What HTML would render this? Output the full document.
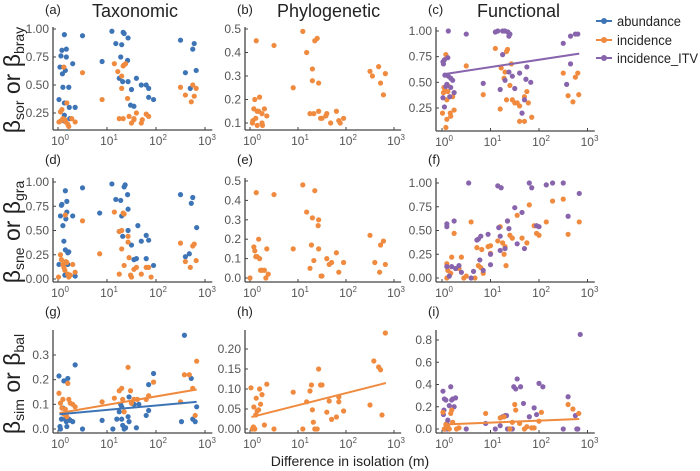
<!DOCTYPE html>
<html><head><meta charset="utf-8"><style>
body{margin:0;background:#fff;width:700px;height:471px;overflow:hidden}
svg{display:block;font-family:"Liberation Sans",sans-serif}
</style></head><body>
<svg id="c" width="700" height="471"></svg>
<script>
const blue='#3d74b6',orange='#ef8a3e',purple='#8864ad';
const aBlue=[[0.13,0.95],[0.08,0.81],[0.17,0.82],[0.06,0.76],[0.17,0.75],[0.04,0.66],[0.15,0.63],[0.09,0.6],[0.3,0.69],[0.5,0.94],[0.1,0.48],[0.22,0.48],[0.02,0.37],[0.13,0.34],[0.23,0.3],[0.35,0.3],[0.13,0.23],[0.24,0.2],[0.12,0.18],[1.1,0.98],[1.33,0.97],[1.35,0.96],[1.18,0.87],[1.3,0.86],[1.28,0.75],[1.43,0.92],[0.9,0.71],[1.42,0.72],[1.25,0.56],[1.32,0.53],[1.43,0.53],[1.5,0.46],[1.6,0.56],[1.7,0.5],[1.8,0.5],[1.85,0.47],[1.95,0.37],[1.85,0.39],[1.48,0.32],[1.55,0.31],[2.5,0.9],[2.78,0.87],[2.75,0.82],[2.6,0.61],[2.82,0.63],[2.7,0.47]];
const aOrange=[[0.02,0.17],[0.05,0.26],[0.08,0.28],[0.1,0.2],[0.14,0.19],[0.16,0.17],[0.22,0.13],[0.2,0.15],[0.12,0.66],[0.5,0.61],[0.35,0.17],[0.18,0.34],[0.28,0.2],[0.06,0.18],[0.9,0.37],[1.15,0.69],[1.22,0.62],[1.3,0.58],[1.33,0.67],[1.35,0.68],[1.38,0.69],[1.3,0.47],[1.42,0.38],[1.25,0.2],[1.33,0.2],[1.45,0.22],[1.5,0.16],[1.55,0.2],[1.6,0.25],[1.7,0.16],[1.8,0.24],[1.85,0.22],[1.72,0.19],[1.55,0.19],[2.5,0.48],[2.6,0.41],[2.75,0.5],[2.82,0.47],[2.72,0.35],[2.78,0.4]];
const bOrange=[[0.05,0.1],[0.08,0.16],[0.1,0.2],[0.12,0.12],[0.15,0.15],[0.18,0.15],[0.2,0.21],[0.25,0.14],[0.3,0.16],[0.35,0.13],[0.15,0.09],[0.25,0.1],[0.26,0.09],[0.06,0.11],[0.13,0.45],[0.5,0.43],[0.9,0.25],[1.1,0.49],[1.18,0.4],[1.3,0.33],[1.3,0.28],[1.35,0.45],[1.4,0.46],[1.43,0.27],[1.25,0.14],[1.33,0.14],[1.43,0.15],[1.47,0.12],[1.5,0.12],[1.58,0.13],[1.6,0.14],[1.68,0.1],[1.8,0.15],[1.85,0.11],[1.88,0.1],[1.95,0.12],[2.5,0.32],[2.55,0.3],[2.68,0.34],[2.72,0.27],[2.78,0.22],[2.82,0.31]];
const cPurple=[[0.13,1.0],[0.5,0.97],[0.02,0.7],[0.05,0.72],[0.03,0.68],[0.12,0.74],[0.06,0.57],[0.1,0.48],[0.08,0.46],[0.13,0.56],[0.18,0.54],[0.22,0.52],[0.18,0.45],[0.25,0.4],[0.16,0.36],[0.02,0.35],[0.05,0.26],[1.1,0.99],[1.15,1.0],[1.25,1.0],[1.3,1.0],[1.36,0.99],[1.4,0.97],[1.38,0.95],[1.25,0.77],[1.3,0.52],[1.2,0.43],[1.38,0.6],[1.45,0.56],[1.5,0.44],[1.6,0.59],[1.75,0.65],[1.73,0.53],[1.83,0.5],[1.7,0.33],[1.65,0.2],[0.85,0.49],[2.5,0.88],[2.65,0.95],[2.75,0.97],[2.8,0.97],[2.65,0.68],[2.57,0.48]];
const cOrange=[[0.01,0.2],[0.03,0.4],[0.04,0.45],[0.06,0.42],[0.1,0.33],[0.12,0.47],[0.08,0.77],[0.12,0.41],[0.17,0.2],[0.18,0.17],[0.22,0.36],[0.25,0.23],[0.1,0.14],[0.08,0.06],[0.5,0.66],[0.85,0.38],[1.1,0.83],[1.22,0.64],[1.33,0.8],[1.35,0.82],[1.3,0.6],[1.28,0.54],[1.2,0.24],[1.33,0.33],[1.4,0.47],[1.43,0.68],[1.45,0.33],[1.5,0.3],[1.55,0.3],[1.6,0.27],[1.7,0.36],[1.75,0.41],[1.78,0.3],[1.6,0.12],[1.7,0.12],[1.85,0.16],[2.5,0.59],[2.6,0.37],[2.7,0.31],[2.75,0.55],[2.8,0.59],[2.82,0.38]];
const dBlue=[[0.02,0.15],[0.05,0.65],[0.07,0.76],[0.08,0.77],[0.1,0.55],[0.12,0.39],[0.15,0.91],[0.18,0.8],[0.18,0.69],[0.16,0.62],[0.2,0.27],[0.15,0.3],[0.22,0.28],[0.2,0.15],[0.14,0.04],[0.3,0.65],[0.35,0.03],[0.5,0.94],[0.85,0.68],[1.1,0.98],[1.18,0.82],[1.28,0.81],[1.35,0.95],[1.37,0.97],[1.42,0.87],[1.43,0.72],[1.3,0.65],[1.25,0.49],[1.32,0.44],[1.43,0.5],[1.5,0.35],[1.55,0.2],[1.6,0.21],[1.63,0.55],[1.7,0.39],[1.8,0.45],[1.85,0.4],[1.8,0.21],[1.95,0.14],[2.5,0.87],[2.75,0.84],[2.72,0.78],[2.6,0.23],[2.68,0.26],[2.83,0.53]];
const dOrange=[[0.01,0.02],[0.05,0.25],[0.07,0.2],[0.1,0.15],[0.12,0.12],[0.14,0.09],[0.16,0.18],[0.18,0.17],[0.2,0.05],[0.22,0.02],[0.25,0.04],[0.3,0.15],[0.35,0.07],[0.15,0.66],[0.5,0.6],[0.85,0.26],[1.15,0.69],[1.25,0.49],[1.3,0.5],[1.35,0.67],[1.33,0.68],[1.3,0.31],[1.35,0.14],[1.25,0.05],[1.43,0.44],[1.43,0.38],[1.45,0.22],[1.48,0.04],[1.5,0.02],[1.55,0.1],[1.6,0.12],[1.7,0.05],[1.8,0.12],[1.85,0.12],[1.9,0.02],[2.5,0.37],[2.6,0.18],[2.7,0.12],[2.75,0.34],[2.78,0.36],[2.82,0.19]];
const eOrange=[[0.0,0.0],[0.08,0.16],[0.1,0.14],[0.12,0.11],[0.15,0.11],[0.18,0.2],[0.2,0.1],[0.25,0.04],[0.22,0.04],[0.3,0.04],[0.33,0.0],[0.35,0.15],[0.38,0.02],[0.13,0.44],[0.5,0.43],[0.9,0.15],[1.1,0.48],[1.18,0.34],[1.3,0.31],[1.35,0.45],[1.28,0.17],[1.25,0.05],[1.33,0.09],[1.43,0.3],[1.42,0.27],[1.43,0.15],[1.48,0.01],[1.5,0.01],[1.6,0.1],[1.65,0.07],[1.7,0.08],[1.8,0.13],[1.85,0.03],[1.95,0.08],[2.5,0.22],[2.6,0.08],[2.7,0.03],[2.72,0.17],[2.78,0.19],[2.82,0.07]];
const fPurple=[[0.1,0.57],[0.1,0.54],[0.25,0.6],[0.1,0.12],[0.15,0.02],[0.2,0.12],[0.28,0.1],[0.35,0.13],[0.4,0.06],[0.55,1.0],[0.6,0.0],[0.65,0.07],[0.72,0.4],[0.75,0.41],[0.8,0.44],[0.78,0.19],[0.85,0.08],[0.95,0.46],[1.0,0.25],[1.0,0.14],[1.15,0.97],[1.22,0.95],[1.17,0.53],[1.2,0.44],[1.2,0.29],[1.35,0.6],[1.38,0.52],[1.3,0.31],[1.5,0.74],[1.55,0.36],[1.65,0.69],[1.7,0.31],[1.8,1.0],[1.85,0.95],[1.95,0.55],[2.0,0.54],[2.15,0.98],[2.28,1.0],[2.5,1.0],[2.6,0.65],[2.83,0.89]];
const fOrange=[[0.1,0.15],[0.1,0.0],[0.12,0.08],[0.18,0.05],[0.2,0.22],[0.25,0.47],[0.35,0.1],[0.4,0.22],[0.45,0.0],[0.5,0.02],[0.6,0.59],[0.68,0.0],[0.72,0.32],[0.75,0.13],[0.82,0.3],[0.8,0.11],[0.85,0.05],[0.95,0.33],[1.0,0.34],[1.0,0.26],[1.15,0.39],[1.2,0.54],[1.25,0.37],[1.28,0.25],[1.3,0.33],[1.32,0.13],[1.35,0.6],[1.4,0.45],[1.45,0.42],[1.55,0.66],[1.65,0.42],[1.75,0.37],[1.8,0.77],[1.9,0.55],[1.95,0.47],[2.0,0.45],[2.15,0.59],[2.28,0.81],[2.5,0.83],[2.6,0.46],[2.83,0.59]];
const gBlue=[[0.02,0.215],[0.04,0.01],[0.05,0.0],[0.07,0.04],[0.1,0.085],[0.12,0.195],[0.15,0.04],[0.17,0.03],[0.18,0.01],[0.2,0.205],[0.22,0.04],[0.25,0.035],[0.3,0.03],[0.35,0.26],[0.5,0.0],[0.9,0.035],[1.12,0.0],[1.2,0.04],[1.25,0.07],[1.28,0.1],[1.3,0.09],[1.3,0.04],[1.32,0.015],[1.35,0.0],[1.38,0.005],[1.43,0.05],[1.45,0.03],[1.45,0.13],[1.5,0.105],[1.55,0.1],[1.6,0.005],[1.65,0.1],[1.8,0.055],[1.85,0.075],[1.85,0.18],[1.95,0.225],[2.52,0.03],[2.58,0.38],[2.72,0.205],[2.75,0.04],[2.8,0.03],[2.83,0.09]];
const gOrange=[[0.02,0.145],[0.05,0.105],[0.08,0.085],[0.1,0.12],[0.15,0.08],[0.2,0.185],[0.22,0.12],[0.25,0.105],[0.3,0.1],[0.35,0.09],[0.12,0.06],[0.18,0.05],[0.9,0.11],[1.15,0.125],[1.25,0.155],[1.3,0.165],[1.32,0.12],[1.35,0.07],[1.43,0.25],[1.48,0.155],[1.5,0.105],[1.55,0.12],[1.62,0.12],[1.8,0.12],[1.85,0.135],[1.95,0.19],[2.5,0.11],[2.58,0.22],[2.68,0.22],[2.75,0.165],[2.8,0.055],[2.83,0.275]];
const hOrange=[[0.02,0.103],[0.05,0.0],[0.07,0.005],[0.08,0.055],[0.1,0.0],[0.12,0.035],[0.13,0.077],[0.15,0.045],[0.18,0.048],[0.2,0.1],[0.22,0.062],[0.25,0.086],[0.3,0.01],[0.35,0.112],[0.5,0.0],[0.9,0.092],[1.1,0.0],[1.18,0.068],[1.25,0.095],[1.28,0.11],[1.3,0.048],[1.32,0.017],[1.35,0.0],[1.4,0.0],[1.43,0.15],[1.47,0.11],[1.5,0.11],[1.6,0.042],[1.65,0.07],[1.7,0.024],[1.8,0.03],[1.85,0.068],[1.85,0.08],[1.95,0.045],[2.5,0.06],[2.58,0.17],[2.68,0.155],[2.72,0.148],[2.75,0.035],[2.82,0.24]];
const iPurple=[[0.02,0.34],[0.05,0.27],[0.08,0.26],[0.04,0.17],[0.03,0.13],[0.1,0.05],[0.12,0.08],[0.15,0.21],[0.18,0.38],[0.22,0.27],[0.2,0.26],[0.25,0.2],[0.28,0.28],[0.5,0.0],[0.05,0.0],[0.08,0.0],[0.12,0.0],[0.9,0.05],[1.1,0.0],[1.2,0.03],[1.25,0.11],[1.3,0.12],[1.33,0.12],[1.35,0.0],[1.4,0.0],[1.45,0.0],[1.48,0.38],[1.52,0.36],[1.55,0.45],[1.62,0.38],[1.68,0.23],[1.8,0.11],[1.9,0.19],[1.95,0.13],[2.0,0.41],[2.08,0.38],[2.5,0.0],[2.6,0.29],[2.75,0.12],[2.78,0.0],[2.8,0.0],[2.85,0.85]];
const iOrange=[[0.02,0.15],[0.05,0.0],[0.08,0.04],[0.12,0.02],[0.15,0.0],[0.18,0.14],[0.2,0.17],[0.22,0.06],[0.3,0.0],[0.35,0.01],[0.9,0.14],[1.2,0.1],[1.28,0.11],[1.4,0.0],[1.45,0.06],[1.5,0.22],[1.52,0.17],[1.6,0.05],[1.7,0.0],[1.75,0.02],[1.85,0.01],[1.9,0.01],[2.0,0.07],[2.05,0.15],[2.6,0.22],[2.7,0.18],[2.82,0.14]];
const cPurpleFit=[0.05,0.58,2.83,0.78];
const gOrangeFit=[0.03,0.065,2.83,0.16];
const gBlueFit=[0.03,0.06,2.83,0.11];
const hOrangeFit=[0.03,0.03,2.83,0.115];
const iOrangeFit=[0.03,0.04,2.83,0.09];
const xTicks=[0,1,2,3];

const NS='http://www.w3.org/2000/svg',svg=document.getElementById('c');
function el(t,a,p){const e=document.createElementNS(NS,t);for(const k in a)e.setAttribute(k,a[k]);(p||svg).appendChild(e);return e;}
const panels=[
 {id:'a',x0:58,dec:49,ax:53,by:130,ty:27,v1:1,p1:29,v2:0.25,p2:113,yt:[0.25,0.5,0.75,1.0],fmt:2,series:[[aBlue,blue],[aOrange,orange]],fits:[]},
 {id:'b',x0:250,dec:48,ax:245,by:130,ty:27,v1:0.5,p1:29,v2:0.1,p2:123,yt:[0.1,0.2,0.3,0.4,0.5],fmt:1,series:[[bOrange,orange]],fits:[]},
 {id:'c',x0:442,dec:48.5,ax:436,by:131,ty:27,v1:1,p1:31,v2:0.25,p2:108,yt:[0.25,0.5,0.75,1.0],fmt:2,series:[[cOrange,orange],[cPurple,purple]],fits:[[cPurpleFit,purple]]},
 {id:'d',x0:58,dec:49,ax:53,by:282,ty:178,v1:1,p1:182,v2:0,p2:279,yt:[0,0.25,0.5,0.75,1.0],fmt:2,series:[[dBlue,blue],[dOrange,orange]],fits:[]},
 {id:'e',x0:250,dec:48,ax:245,by:282,ty:178,v1:0.5,p1:181,v2:0,p2:278,yt:[0,0.1,0.2,0.3,0.4,0.5],fmt:1,series:[[eOrange,orange]],fits:[]},
 {id:'f',x0:442,dec:48.5,ax:436,by:282,ty:178,v1:1,p1:183,v2:0,p2:278,yt:[0,0.25,0.5,0.75,1.0],fmt:2,series:[[fOrange,orange],[fPurple,purple]],fits:[]},
 {id:'g',x0:58,dec:49,ax:53,by:433,ty:330,v1:0.3,p1:355,v2:0,p2:429,yt:[0,0.1,0.2,0.3],fmt:1,series:[[gBlue,blue],[gOrange,orange]],fits:[[gOrangeFit,orange],[gBlueFit,blue]]},
 {id:'h',x0:250,dec:48,ax:245,by:433,ty:330,v1:0.2,p1:349,v2:0,p2:429,yt:[0,0.05,0.1,0.15,0.2],fmt:2,series:[[hOrange,orange]],fits:[[hOrangeFit,orange]]},
 {id:'i',x0:442,dec:48.5,ax:436,by:433,ty:330,v1:0.8,p1:340,v2:0,p2:429,yt:[0,0.2,0.4,0.6,0.8],fmt:1,series:[[iPurple,purple],[iOrange,orange]],fits:[[iOrangeFit,orange]]}
];
panels.forEach(P=>{
  const g=el('g',{});
  
  
  const X=v=>P.x0+v*P.dec, Y=v=>P.p1+(v-P.v1)*(P.p2-P.p1)/(P.v2-P.v1);
  const right=P.x0+3.15*P.dec;
  el('line',{x1:P.ax,y1:P.ty,x2:P.ax,y2:P.by,stroke:'#444','stroke-width':1.3},g);
  el('line',{x1:P.ax,y1:P.by,x2:right,y2:P.by,stroke:'#444','stroke-width':1.3},g);
  P.yt.forEach(v=>{
    el('line',{x1:P.ax,y1:Y(v),x2:P.ax+3,y2:Y(v),stroke:'#444'},g);
    const t=el('text',{x:P.ax-4,y:Y(v)+4,'text-anchor':'end','font-size':12,fill:'#555'},g);
    t.textContent=v.toFixed(P.fmt);
    
    
  });
  xTicks.forEach(v=>{
    el('line',{x1:X(v),y1:P.by,x2:X(v),y2:P.by-3,stroke:'#444'},g);
    const t=el('text',{x:X(v)+2,y:P.by+15,'text-anchor':'middle','font-size':12,fill:'#555'},g);
    t.innerHTML='10<tspan dy="-5" font-size="8">'+v+'</tspan>';
    
    
  });
  P.series.forEach(([d,col])=>d.forEach(([lx,v])=>{
    const c=el('circle',{cx:X(lx),cy:Y(v),r:2.6,fill:col},g);
    
    
  }));
  P.fits.forEach(([f,col])=>{
    const l=el('line',{x1:X(f[0]),y1:Y(f[1]),x2:X(f[2]),y2:Y(f[3]),stroke:col,'stroke-width':2},g);
    
    
  });
});
</script>
<svg width="700" height="471" style="position:absolute;left:0;top:0" font-family="Liberation Sans, sans-serif">
 <g fill="#222" font-size="13">
  <text x="45" y="14">(a)</text>
  <text x="237" y="14">(b)</text>
  <text x="428" y="14">(c)</text>
  <text x="45" y="164">(d)</text>
  <text x="237" y="164">(e)</text>
  <text x="428" y="164">(f)</text>
  <text x="45" y="316">(g)</text>
  <text x="237" y="316">(h)</text>
  <text x="428" y="316">(i)</text>
 </g>
 <g fill="#222" font-size="18">
  <text x="92" y="17">Taxonomic</text>
  <text x="277" y="17">Phylogenetic</text>
  <text x="477" y="17">Functional</text>
 </g>
 <g fill="#222" font-size="23">
  <text transform="translate(20,80) rotate(-90)" text-anchor="middle">β<tspan font-size="14" dy="4">sor</tspan><tspan dy="-4"> or β</tspan><tspan font-size="14" dy="4">bray</tspan></text>
  <text transform="translate(20,232) rotate(-90)" text-anchor="middle">β<tspan font-size="14" dy="4">sne</tspan><tspan dy="-4"> or β</tspan><tspan font-size="14" dy="4">gra</tspan></text>
  <text transform="translate(20,384) rotate(-90)" text-anchor="middle">β<tspan font-size="14" dy="4">sim</tspan><tspan dy="-4"> or β</tspan><tspan font-size="14" dy="4">bal</tspan></text>
 </g>
 <text x="350" y="466" text-anchor="middle" font-size="14" fill="#222">Difference in isolation (m)</text>
 <g font-size="13.5" fill="#222">
  <g><line x1="596" y1="21" x2="612" y2="21" stroke="#3d74b6" stroke-width="2"/><circle cx="604" cy="21" r="3" fill="#3d74b6"/><text x="617" y="26" textLength="64" lengthAdjust="spacingAndGlyphs">abundance</text></g>
  <g><line x1="596" y1="40" x2="612" y2="40" stroke="#ef8a3e" stroke-width="2"/><circle cx="604" cy="40" r="3" fill="#ef8a3e"/><text x="617" y="45" textLength="55" lengthAdjust="spacingAndGlyphs">incidence</text></g>
  <g><line x1="596" y1="58" x2="612" y2="58" stroke="#8864ad" stroke-width="2"/><circle cx="604" cy="58" r="3" fill="#8864ad"/><text x="617" y="63" textLength="81" lengthAdjust="spacingAndGlyphs">incidence_ITV</text></g>
 </g>
</svg>
</body></html>
